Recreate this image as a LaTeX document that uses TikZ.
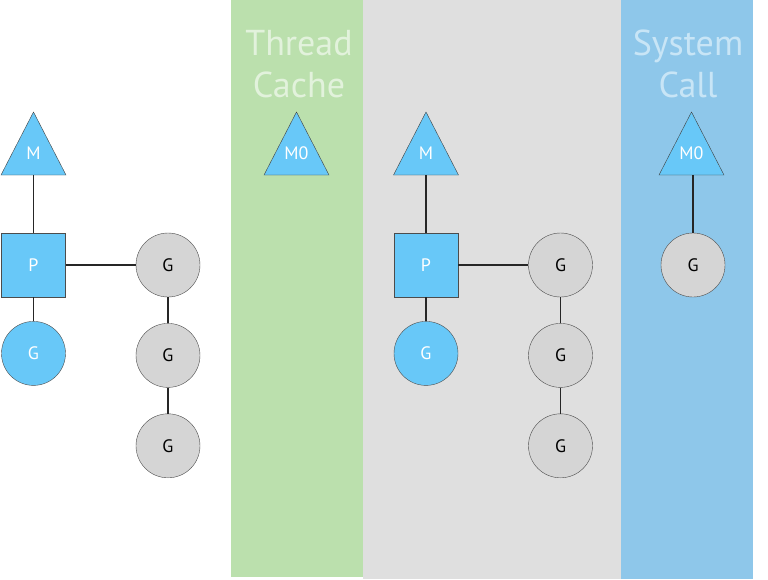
\documentclass[tikz,border=0pt]{standalone}
\usepackage{fontspec}
\setmainfont{PT Sans}
\usetikzlibrary{positioning}
\definecolor{goblue}{HTML}{68C8F8}
\definecolor{gogray}{HTML}{D5D5D5}
\definecolor{cachegreen}{HTML}{BBE0AD}
\definecolor{runbg}{HTML}{DFDFDF}
\definecolor{callblue}{HTML}{8EC7EA}
\definecolor{cachetxt}{HTML}{E2F2DC}
\definecolor{calltxt}{HTML}{C8E5F6}
\tikzset{
  pbox/.style={draw=black!70, fill=goblue, text=white, inner sep=0pt, minimum size=64pt, font=\fontsize{18}{18}\selectfont},
  grun/.style={circle, draw=black!70, fill=goblue, text=white, inner sep=0pt, minimum size=64pt, font=\fontsize{18}{18}\selectfont},
  gwait/.style={circle, draw=black!70, fill=gogray, text=black, inner sep=0pt, minimum size=64pt, font=\fontsize{18}{18}\selectfont},
  mtri/.style={draw=black!75, fill=goblue, line join=miter},
  mlabel/.style={text=white, inner sep=0pt, font=\fontsize{18}{18}\selectfont},
  bandtext/.style={anchor=base, inner sep=0pt, font=\fontsize{36}{36}\selectfont},
  link/.style={draw=black!85, line width=1.4pt}
}

\begin{document}
\begin{tikzpicture}[x=1pt, y=-1pt]
\useasboundingbox (0,0) rectangle (768,579);

% bands
\fill[cachegreen] (231,0) rectangle (362.5,577);
\fill[runbg] (362.5,0) rectangle (620.5,579);
\fill[callblue] (620.5,0) rectangle (752.5,579);

\node[bandtext, text=cachetxt] (tc1) at (299,55) {Thread};
\node[bandtext, text=cachetxt] (tc2) at (299,97) {Cache};
\node[bandtext, text=calltxt] (sc1) at (688,55) {System};
\node[bandtext, text=calltxt] (sc2) at (688,97) {Call};

% M, P and its G queue
\foreach \i/\x in {1/0, 2/392.5}
{
	\draw[mtri] (\x+33.5,112) -- (\x+1,175) -- (\x+66,175) -- cycle;
	\node[mlabel] (M\i) at (\x+33.5,153) {M};
	\coordinate (Mb\i) at (\x+33.5,175);

	\node[pbox] (P\i) at (\x+33.5,265) {P};
	\node[grun, below=24pt of P\i] (Gr\i) {G};

	\node[gwait] (Ga\i) at (\x+168,265) {G};
	\node[gwait, below=26pt of Ga\i] (Gb\i) {G};
	\node[gwait, below=26pt of Gb\i] (Gc\i) {G};

	\path[link] (Mb\i) -- (P\i);
	\path[link] (P\i) -- (Gr\i);
	\path[link] (P\i) -- (Ga\i);
	\path[link] (Ga\i) -- (Gb\i);
	\path[link] (Gb\i) -- (Gc\i);
}

% M0 in the thread cache
\draw[mtri] (296.5,112) -- (264,175) -- (329,175) -- cycle;
\node[mlabel] (M0c) at (296.5,153) {M0};

% M0 blocked in a system call
\draw[mtri] (691.5,112) -- (659,175) -- (724,175) -- cycle;
\node[mlabel] (M0s) at (691.5,153) {M0};
\coordinate (M0b) at (693,175);
\node[gwait] (Gs) at (693,265) {G};
\path[link] (M0b) -- (Gs);

\end{tikzpicture}
\end{document}
